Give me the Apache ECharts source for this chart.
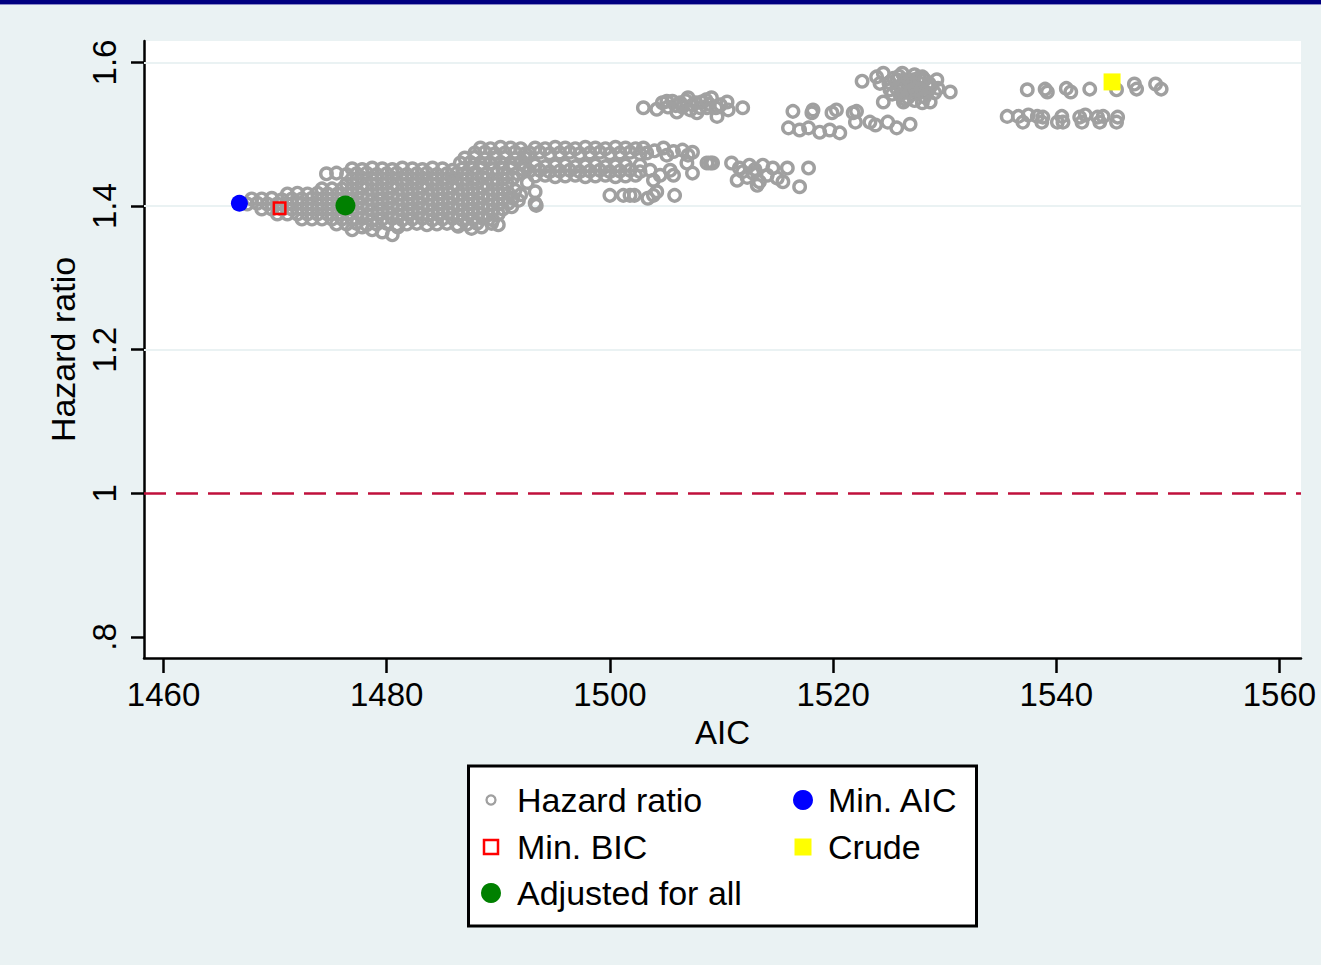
<!DOCTYPE html>
<html>
<head>
<meta charset="utf-8">
<script src="https://cdn.jsdelivr.net/npm/echarts@6/dist/echarts.min.js"></script>
<style>
  html, body { margin: 0; padding: 0; background: #ffffff; }
  #chart { width: 1321px; height: 965px; }
</style>
</head>
<body>
<div id="chart"></div>
<script>
// Hazard ratio of each candidate model against its AIC
const hazardLowTail = [
  [1467.5,1.403],[1467.9,1.410],[1468.4,1.404],[1468.8,1.396],[1468.8,1.410],[1469.3,1.403],
  [1469.7,1.396],[1469.7,1.411],[1470.2,1.389],[1470.2,1.403],[1470.6,1.396],[1470.6,1.409],
  [1471.1,1.389],[1471.1,1.403],[1471.1,1.417],[1471.5,1.396],[1471.5,1.410],[1472.0,1.389],
  [1472.0,1.404],[1472.0,1.418],[1472.4,1.382],[1472.4,1.396],[1472.4,1.410],[1472.9,1.389],
  [1472.9,1.403],[1472.9,1.417],[1473.3,1.382],[1473.3,1.396],[1473.3,1.411],[1473.8,1.389],
  [1473.8,1.402],[1473.8,1.418],[1474.2,1.382],[1474.2,1.396],[1474.2,1.410],[1474.2,1.424],
  [1474.7,1.389],[1474.7,1.403],[1474.7,1.417],[1475.1,1.382],[1475.1,1.396],[1475.1,1.410],
  [1475.1,1.424],[1475.5,1.375],[1475.6,1.389],[1475.6,1.403],[1475.6,1.417],[1476.0,1.382],
  [1476.0,1.396],[1476.0,1.410],[1476.0,1.424]
];
const hazardMainBody = [
  // upper edge
  [1476.9,1.452],[1477.8,1.451],[1478.7,1.453],[1479.6,1.452],[1480.5,1.451],[1481.4,1.453],
  [1482.3,1.452],[1483.2,1.451],[1484.1,1.453],[1485.0,1.452],[1485.9,1.450],[1486.8,1.452],
  [1474.6,1.445],[1475.5,1.446],[1476.4,1.444],[1477.3,1.445],[1478.2,1.446],[1479.1,1.444],
  [1480.0,1.445],[1480.9,1.446],[1481.8,1.444],[1482.7,1.445],[1483.6,1.446],[1484.5,1.444],
  [1485.4,1.445],[1486.3,1.446],[1487.2,1.444],[1488.1,1.445],
  // interior
  [1476.9,1.438],[1477.8,1.439],[1478.7,1.437],[1479.6,1.438],[1480.5,1.439],[1481.4,1.437],
  [1482.3,1.438],[1483.2,1.439],[1484.1,1.437],[1485.0,1.438],[1485.9,1.439],[1486.8,1.437],
  [1487.7,1.438],[1488.6,1.439],[1489.5,1.437],
  [1476.4,1.431],[1477.3,1.432],[1478.2,1.430],[1479.1,1.431],[1480.0,1.432],[1480.9,1.430],
  [1481.8,1.431],[1482.7,1.432],[1483.6,1.430],[1484.5,1.431],[1485.4,1.432],[1486.3,1.430],
  [1487.2,1.431],[1488.1,1.432],[1489.0,1.430],[1489.9,1.431],
  [1476.9,1.424],[1477.8,1.425],[1478.7,1.423],[1479.6,1.424],[1480.5,1.425],[1481.4,1.423],
  [1482.3,1.424],[1483.2,1.425],[1484.1,1.423],[1485.0,1.424],[1485.9,1.425],[1486.8,1.423],
  [1487.7,1.424],[1488.6,1.425],[1489.5,1.423],[1490.4,1.424],
  [1476.5,1.417],[1477.4,1.418],[1478.3,1.416],[1479.2,1.417],[1480.1,1.418],[1481.0,1.416],
  [1481.9,1.417],[1482.8,1.418],[1483.7,1.416],[1484.6,1.417],[1485.5,1.418],[1486.4,1.416],
  [1487.3,1.417],[1488.2,1.418],[1489.1,1.416],[1490.0,1.417],[1490.9,1.418],
  [1476.9,1.410],[1477.8,1.411],[1478.7,1.409],[1479.6,1.410],[1480.5,1.411],[1481.4,1.409],
  [1482.3,1.410],[1483.2,1.411],[1484.1,1.409],[1485.0,1.410],[1485.9,1.411],[1486.8,1.409],
  [1487.7,1.410],[1488.6,1.411],[1489.5,1.409],[1490.4,1.410],[1491.3,1.411],
  [1476.5,1.403],[1477.4,1.404],[1478.3,1.402],[1479.2,1.403],[1480.1,1.404],[1481.0,1.402],
  [1481.9,1.403],[1482.8,1.404],[1483.7,1.402],[1484.6,1.403],[1485.5,1.404],[1486.4,1.402],
  [1487.3,1.403],[1488.2,1.404],[1489.1,1.402],[1490.0,1.403],[1490.9,1.404],
  [1476.9,1.396],[1477.8,1.397],[1478.7,1.395],[1479.6,1.396],[1480.5,1.397],[1481.4,1.395],
  [1482.3,1.396],[1483.2,1.397],[1484.1,1.395],[1485.0,1.396],[1485.9,1.397],[1486.8,1.395],
  [1487.7,1.396],[1488.6,1.397],[1489.5,1.395],[1490.4,1.396],
  [1476.5,1.389],[1477.4,1.390],[1478.3,1.388],[1479.2,1.389],[1480.1,1.390],[1481.0,1.388],
  [1481.9,1.389],[1482.8,1.390],[1483.7,1.388],[1484.6,1.389],[1485.5,1.390],[1486.4,1.388],
  [1487.3,1.389],[1488.2,1.390],[1489.1,1.388],[1490.0,1.389],
  [1476.9,1.382],[1477.8,1.383],[1478.7,1.381],[1479.6,1.382],[1480.5,1.383],[1481.4,1.381],
  [1482.3,1.382],[1483.2,1.383],[1484.1,1.381],[1485.0,1.382],[1485.9,1.383],[1486.8,1.381],
  [1487.7,1.382],[1488.6,1.383],[1489.5,1.381],
  [1476.4,1.375],[1477.3,1.376],[1478.2,1.374],[1479.1,1.375],[1480.0,1.376],[1480.9,1.374],
  [1481.8,1.375],[1482.7,1.376],[1483.6,1.374],[1484.5,1.375],[1485.4,1.376],[1486.3,1.374],
  [1487.2,1.375],[1488.1,1.376],
  // lower edge
  [1476.9,1.367],[1477.8,1.371],[1478.7,1.367],[1479.6,1.364],[1480.5,1.360],[1481.0,1.371],
  [1486.4,1.372],[1487.6,1.369],[1488.5,1.371],[1489.4,1.376],[1490.0,1.374],
  [1491.2,1.399],[1491.8,1.408],[1491.5,1.422],[1493.4,1.401],[1492.0,1.416]
];
const hazardUpperRight = [
  [1488.4,1.481],[1489.3,1.480],[1490.2,1.482],[1491.1,1.481],[1492.0,1.480],
  [1487.9,1.474],[1488.8,1.475],[1489.7,1.473],[1490.6,1.474],[1491.5,1.475],[1492.4,1.473],
  [1487.0,1.467],[1487.9,1.468],[1488.8,1.466],[1489.7,1.467],[1490.6,1.468],[1491.5,1.466],[1492.4,1.467],
  [1486.6,1.460],[1487.5,1.461],[1488.4,1.459],[1489.3,1.460],[1490.2,1.461],[1491.1,1.459],[1492.0,1.460],
  [1487.7,1.452],[1488.6,1.453],[1489.5,1.451],[1490.4,1.452],[1491.3,1.453],[1492.2,1.451],
  [1489.0,1.445],[1489.9,1.446],[1490.8,1.444],[1491.7,1.445],
  [1490.4,1.438],[1491.3,1.439],[1490.8,1.431]
];
const hazardMiddle = [
  // upper band
  [1493.3,1.481],[1494.2,1.480],[1495.1,1.482],[1496.0,1.481],[1496.9,1.480],[1497.8,1.482],
  [1498.7,1.481],[1499.6,1.480],[1500.5,1.482],[1501.4,1.481],[1502.3,1.480],
  [1492.8,1.474],[1493.7,1.475],[1494.6,1.473],[1495.5,1.474],[1496.4,1.475],[1497.3,1.473],
  [1498.2,1.474],[1499.1,1.475],[1500.0,1.473],[1500.9,1.474],[1501.8,1.475],[1502.7,1.473],
  [1503.0,1.481],[1503.3,1.474],[1504.8,1.481],[1505.1,1.471],[1506.5,1.478],[1507.0,1.471],
  [1507.4,1.475],[1504.0,1.477],[1505.7,1.476],[1508.7,1.460],[1509.2,1.460],
  // lower band
  [1492.4,1.456],[1493.3,1.457],[1494.2,1.455],[1495.1,1.456],[1496.0,1.457],[1496.9,1.455],
  [1497.8,1.456],[1498.7,1.457],[1499.6,1.455],[1500.5,1.456],[1501.4,1.457],
  [1492.8,1.449],[1493.7,1.450],[1494.6,1.448],[1495.5,1.449],[1496.4,1.450],[1497.3,1.448],
  [1498.2,1.449],[1499.1,1.450],[1500.0,1.448],[1500.9,1.449],[1501.8,1.450],[1502.7,1.448],
  [1493.3,1.442],[1494.2,1.443],[1495.1,1.441],[1496.0,1.442],[1496.9,1.443],[1497.8,1.441],
  [1498.7,1.442],[1499.6,1.443],[1500.5,1.441],[1501.4,1.442],[1502.3,1.443],
  [1502.7,1.457],[1503.6,1.450],[1503.9,1.436],[1504.5,1.443],[1505.4,1.450],[1505.7,1.443],
  [1506.9,1.460],[1507.4,1.446],[1509.0,1.460],
  // scattered below
  [1500.0,1.415],[1501.2,1.415],[1501.8,1.415],[1502.2,1.415],[1503.4,1.411],[1503.9,1.415],
  [1504.2,1.420],[1505.8,1.415],[1493.3,1.420],[1493.3,1.404],[1492.6,1.433]
];
const hazardNear1515 = [
  [1510.9,1.460],[1511.6,1.453],[1511.4,1.436],[1512.5,1.457],[1512.8,1.446],[1513.4,1.434],
  [1513.7,1.457],[1514.6,1.453],[1515.0,1.439],[1515.5,1.434],[1515.9,1.453],[1517.0,1.427],
  [1517.8,1.453],[1514.1,1.443],[1512.3,1.440],[1513.2,1.429],[1511.9,1.448],[1513.0,1.451]
];
const hazardNear1507 = [
  [1503.0,1.537],[1504.2,1.535],[1504.7,1.544],[1505.1,1.546],[1505.6,1.546],[1506.0,1.531],
  [1506.5,1.538],[1507.0,1.551],[1507.4,1.541],[1507.8,1.530],[1508.2,1.545],[1508.7,1.537],
  [1509.1,1.551],[1509.6,1.525],[1509.9,1.541],[1510.5,1.545],[1510.6,1.534],[1511.9,1.537],
  [1506.3,1.544],[1507.2,1.534],[1508.1,1.537],[1508.9,1.542],[1505.9,1.540],[1506.8,1.547],
  [1507.7,1.544],[1508.6,1.548],[1509.5,1.537],[1505.2,1.538]
];
const hazardNear1527 = [
  [1522.6,1.574],[1523.9,1.580],[1524.2,1.571],[1524.5,1.585],[1525.7,1.576],[1526.2,1.585],
  [1526.3,1.569],[1526.6,1.559],[1527.2,1.576],[1527.5,1.566],[1528.0,1.580],[1528.0,1.559],
  [1528.7,1.566],[1529.3,1.576],[1529.4,1.564],[1530.5,1.559],[1524.5,1.545],[1526.3,1.545],
  [1526.7,1.551],[1528.0,1.544],[1528.4,1.558],[1529.1,1.558],[1528.7,1.545],
  [1525.4,1.578],[1525.7,1.564],[1526.4,1.576],[1526.9,1.567],[1527.3,1.583],[1527.8,1.571],
  [1528.2,1.576],[1525.1,1.562],[1526.0,1.555],[1527.1,1.556],[1527.6,1.559],
  [1525.0,1.572],[1525.9,1.581],[1526.8,1.573],[1527.7,1.579],[1528.6,1.571],[1526.1,1.566],
  [1527.0,1.561],[1527.9,1.563],[1525.3,1.556],[1526.4,1.549],[1527.3,1.547],[1528.2,1.552]
];
const hazardNear1520 = [
  [1516.4,1.532],[1518.1,1.530],[1518.2,1.534],[1519.9,1.530],[1520.3,1.534],[1521.8,1.530],
  [1522.1,1.532],[1516.0,1.509],[1517.0,1.506],[1517.8,1.509],[1518.8,1.503],[1519.7,1.506],
  [1520.6,1.502],[1522.0,1.517],[1523.3,1.517],[1523.8,1.513],[1524.9,1.517],[1525.7,1.509],
  [1526.9,1.514]
];
const hazardNear1543 = [
  [1537.4,1.562],[1539.0,1.563],[1539.2,1.559],[1540.9,1.564],[1541.3,1.559],[1543.0,1.563],
  [1545.4,1.562],[1547.0,1.570],[1547.2,1.563],[1548.9,1.570],[1549.4,1.563],
  [1535.6,1.525],[1536.6,1.525],[1537.0,1.517],[1537.5,1.527],[1538.3,1.525],[1538.7,1.517],
  [1538.8,1.524],[1540.1,1.517],[1540.5,1.525],[1540.6,1.517],[1542.1,1.524],[1542.3,1.517],
  [1542.6,1.527],[1543.7,1.524],[1543.9,1.517],[1544.2,1.525],[1545.4,1.517],[1545.5,1.524]
];
const hazardRatioPoints = [].concat(
  hazardLowTail, hazardMainBody, hazardUpperRight, hazardMiddle,
  hazardNear1515, hazardNear1507, hazardNear1527, hazardNear1520, hazardNear1543
);

// Highlighted models [AIC, hazard ratio]
const minAIC = [1466.8, 1.404];
const minBIC = [1470.4, 1.397];
const adjustedForAll = [1476.3, 1.401];
const crude = [1545.0, 1.573];

// Axes
const xTickValues = [1460, 1480, 1500, 1520, 1540, 1560];
const xTickLabels = ['1460', '1480', '1500', '1520', '1540', '1560'];
const yTickValues = [0.8, 1, 1.2, 1.4, 1.6];
const yTickLabels = ['.8', '1', '1.2', '1.4', '1.6'];
const yGridValues = [1.2, 1.4, 1.6];
const nullHazardRatio = 1;

// Legend entries
const legendNames = ['Hazard ratio', 'Min. BIC', 'Adjusted for all', 'Min. AIC', 'Crude'];

const FONT = "'Liberation Sans', Arial, sans-serif";
const BG = '#eaf2f3';
const GRAY = '#a0a0a0';

function pickLabel(values, labels, v) {
  for (let i = 0; i < values.length; i++) {
    if (Math.abs(values[i] - v) < 1e-9) return labels[i];
  }
  return '';
}

const chart = echarts.init(document.getElementById('chart'), null, { renderer: 'svg' });

function legendText(name, x, y) {
  return {
    type: 'text', silent: true, z: 10,
    style: { text: name, x: x, y: y, fill: '#000', fontSize: 34, fontFamily: FONT,
             align: 'left', verticalAlign: 'middle' }
  };
}

// two-column key in a framed box below the plot
const COL1_ICON = 491, COL1_TEXT = 517, COL2_ICON = 803, COL2_TEXT = 828;
const ROW1 = 800, ROW2 = 847, ROW3 = 893;

chart.setOption({
  animation: false,
  backgroundColor: BG,
  graphic: [
    { type: 'rect', shape: { x: 0, y: 0, width: 1321, height: 4 }, style: { fill: '#000080' }, silent: true },
    { type: 'rect', shape: { x: 0, y: 4, width: 1321, height: 1 }, style: { fill: '#8c8cc8' }, silent: true },
    { type: 'rect', shape: { x: 468.5, y: 766, width: 508, height: 160 }, z: 9,
      style: { fill: '#ffffff', stroke: '#000000', lineWidth: 3 }, silent: true },
    { type: 'circle', shape: { cx: COL1_ICON, cy: ROW1, r: 4.5 }, z: 10, silent: true,
      style: { fill: 'none', stroke: GRAY, lineWidth: 2.3 } },
    legendText(legendNames[0], COL1_TEXT, ROW1),
    { type: 'rect', shape: { x: COL1_ICON - 7, y: ROW2 - 7, width: 14, height: 14 }, z: 10, silent: true,
      style: { fill: 'none', stroke: '#ff0000', lineWidth: 2.5 } },
    legendText(legendNames[1], COL1_TEXT, ROW2),
    { type: 'circle', shape: { cx: COL1_ICON, cy: ROW3, r: 10 }, z: 10, silent: true,
      style: { fill: '#008000' } },
    legendText(legendNames[2], COL1_TEXT, ROW3),
    { type: 'circle', shape: { cx: COL2_ICON, cy: ROW1, r: 10 }, z: 10, silent: true,
      style: { fill: '#0000ff' } },
    legendText(legendNames[3], COL2_TEXT, ROW1),
    { type: 'rect', shape: { x: COL2_ICON - 8.5, y: ROW2 - 8.5, width: 17, height: 17 }, z: 10, silent: true,
      style: { fill: '#ffff00' } },
    legendText(legendNames[4], COL2_TEXT, ROW2)
  ],
  grid: {
    left: 144, top: 41, width: 1157, height: 617,
    show: true, backgroundColor: '#ffffff', borderWidth: 0
  },
  xAxis: {
    type: 'value',
    min: 1458.25, max: 1561.93,
    name: 'AIC', nameLocation: 'middle', nameGap: 51,
    nameTextStyle: { fontSize: 33, color: '#000', fontFamily: FONT },
    axisLine: { show: true, onZero: false, lineStyle: { color: '#000', width: 2.5 } },
    axisTick: { show: true, customValues: xTickValues, length: 15, lineStyle: { color: '#000', width: 2.5 } },
    axisLabel: {
      customValues: xTickValues, margin: 20, fontSize: 33, color: '#000', fontFamily: FONT,
      formatter: v => pickLabel(xTickValues, xTickLabels, v)
    },
    splitLine: { show: false }
  },
  yAxis: {
    type: 'value',
    min: 0.7706, max: 1.630,
    name: 'Hazard ratio', nameLocation: 'middle', nameGap: 51, nameRotate: 90,
    nameTextStyle: { fontSize: 34, color: '#000', fontFamily: FONT },
    axisLine: { show: true, onZero: false, lineStyle: { color: '#000', width: 2.5 } },
    axisTick: { show: true, customValues: yTickValues, length: 13, lineStyle: { color: '#000', width: 2.5 } },
    axisLabel: {
      customValues: yTickValues, rotate: 90, margin: 23, fontSize: 33, color: '#000', fontFamily: FONT,
      formatter: v => pickLabel(yTickValues, yTickLabels, v)
    },
    splitLine: { show: false }
  },
  series: [
    {
      // reference lines beneath the markers
      type: 'scatter', name: 'reference', data: [], z: 1, silent: true,
      markLine: {
        silent: true, symbol: 'none', z: 1, animation: false,
        label: { show: false },
        emphasis: { disabled: true },
        data: yGridValues.map(v => ({ yAxis: v, lineStyle: { color: BG, width: 2, type: 'solid' } }))
          .concat([{ yAxis: nullHazardRatio, lineStyle: { color: '#c0103c', width: 2.5, type: [22, 10] } }])
      }
    },
    {
      name: legendNames[0], type: 'scatter', z: 3, data: hazardRatioPoints,
      symbol: 'circle', symbolSize: 11.5,
      itemStyle: { color: 'transparent', borderColor: GRAY, borderWidth: 3.4, opacity: 1 },
      emphasis: { disabled: true }
    },
    {
      name: legendNames[3], type: 'scatter', z: 4, data: [minAIC],
      symbol: 'circle', symbolSize: 17,
      itemStyle: { color: '#0000ff', opacity: 1 }, emphasis: { disabled: true }
    },
    {
      name: legendNames[1], type: 'scatter', z: 4, data: [minBIC],
      symbol: 'rect', symbolSize: 11.5,
      itemStyle: { color: 'transparent', borderColor: '#ff0000', borderWidth: 2.5, opacity: 1 },
      emphasis: { disabled: true }
    },
    {
      name: legendNames[2], type: 'scatter', z: 4, data: [adjustedForAll],
      symbol: 'circle', symbolSize: 20,
      itemStyle: { color: '#008000', opacity: 1 }, emphasis: { disabled: true }
    },
    {
      name: legendNames[4], type: 'scatter', z: 4, data: [crude],
      symbol: 'rect', symbolSize: 17,
      itemStyle: { color: '#ffff00', opacity: 1 }, emphasis: { disabled: true }
    }
  ]
});
</script>
</body>
</html>
